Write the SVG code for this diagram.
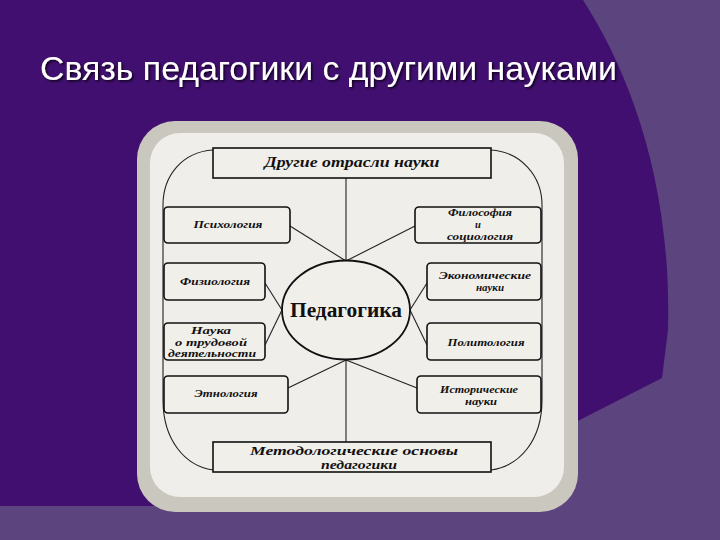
<svg xmlns="http://www.w3.org/2000/svg" width="720" height="540" viewBox="0 0 720 540">
<style>
.box{fill:#f1efea;stroke:#111;stroke-width:1.6}
.ln{fill:none;stroke:#222;stroke-width:1.1}
.t{font-family:"Liberation Serif",serif;font-style:italic;font-weight:bold;fill:#111;text-anchor:middle}
.s{font-size:10.5px}
</style>
<defs>
<filter id="sh" x="-5%" y="-20%" width="110%" height="150%"><feDropShadow dx="1.5" dy="1.5" stdDeviation="1" flood-color="#000" flood-opacity="0.8"/></filter>
</defs>
<g id="background">
<rect width="720" height="540" fill="#5c447f"/>
<path d="M0,0 H583 C628,70 672,180 668,330 L662,378 L560,430 L560,506 H0 Z" fill="#410f70"/>
</g>
<text id="title" x="40" y="80" font-family="'Liberation Sans',Arial,sans-serif" font-size="33" fill="#fff" textLength="577" lengthAdjust="spacingAndGlyphs" filter="url(#sh)">Связь педагогики с другими науками</text>
<g id="panel">
<rect x="137" y="121" width="441" height="391" rx="38" fill="#c9c7be"/>
<rect x="150" y="133" width="414" height="364" rx="30" fill="#efeeea"/>
</g>
<g id="connectors">
<path class="ln" d="M213,150 C182,152 163,176 163,205 L163,400 C163,440 185,466 213,470"/>
<path class="ln" d="M491,150 C521,152 542,176 542,205 L542,400 C542,440 520,466 491,470"/>
<line class="ln" x1="346" y1="178" x2="346" y2="261"/>
<line class="ln" x1="346" y1="360" x2="346" y2="442"/>
<line class="ln" x1="290" y1="226" x2="346" y2="261"/>
<line class="ln" x1="415" y1="226" x2="346" y2="261"/>
<line class="ln" x1="265" y1="283" x2="282" y2="310"/>
<line class="ln" x1="265" y1="345" x2="282" y2="310"/>
<line class="ln" x1="427" y1="283" x2="410" y2="310"/>
<line class="ln" x1="427" y1="345" x2="410" y2="310"/>
<line class="ln" x1="288" y1="388" x2="346" y2="360"/>
<line class="ln" x1="417" y1="388" x2="346" y2="360"/>
</g>
<g id="top">
<rect x="213" y="148" width="278" height="30" fill="#f1efea" stroke="#111" stroke-width="1.6"/>
<text class="t" x="352" y="167" font-size="15" textLength="175" lengthAdjust="spacingAndGlyphs">Другие отрасли науки</text>
</g>
<g id="psychology">
<rect class="box" x="164" y="207" width="126" height="36" rx="4"/>
<text class="t s" x="228" y="228" textLength="69" lengthAdjust="spacingAndGlyphs">Психология</text>
</g>
<g id="philosophy">
<rect class="box" x="415" y="207" width="126" height="36" rx="4"/>
<text class="t s" x="480" y="216" textLength="64" lengthAdjust="spacingAndGlyphs">Философия</text>
<text class="t s" x="478" y="228">и</text>
<text class="t s" x="480" y="240" textLength="66" lengthAdjust="spacingAndGlyphs">социология</text>
</g>
<g id="physiology">
<rect class="box" x="164" y="263" width="101" height="37" rx="4"/>
<text class="t s" x="215" y="285" textLength="70" lengthAdjust="spacingAndGlyphs">Физиология</text>
</g>
<g id="economics">
<rect class="box" x="427" y="263" width="114" height="37" rx="4"/>
<text class="t s" x="485" y="279" textLength="92" lengthAdjust="spacingAndGlyphs">Экономические</text>
<text class="t s" x="490" y="291" textLength="28" lengthAdjust="spacingAndGlyphs">науки</text>
</g>
<g id="labour">
<rect class="box" x="164" y="323" width="101" height="37" rx="4"/>
<text class="t s" x="211" y="334" textLength="40" lengthAdjust="spacingAndGlyphs">Наука</text>
<text class="t s" x="211" y="346" textLength="72" lengthAdjust="spacingAndGlyphs">о трудовой</text>
<text class="t s" x="212" y="357" textLength="88" lengthAdjust="spacingAndGlyphs">деятельности</text>
</g>
<g id="politics">
<rect class="box" x="427" y="323" width="114" height="37" rx="4"/>
<text class="t s" x="486" y="346" textLength="77" lengthAdjust="spacingAndGlyphs">Политология</text>
</g>
<g id="ethnology">
<rect class="box" x="164" y="376" width="124" height="37" rx="4"/>
<text class="t s" x="226" y="397" textLength="63" lengthAdjust="spacingAndGlyphs">Этнология</text>
</g>
<g id="history">
<rect class="box" x="417" y="376" width="124" height="37" rx="4"/>
<text class="t s" x="479" y="393" textLength="78" lengthAdjust="spacingAndGlyphs">Исторические</text>
<text class="t s" x="481" y="405" textLength="32" lengthAdjust="spacingAndGlyphs">науки</text>
</g>
<g id="pedagogy">
<ellipse cx="346" cy="310" rx="64" ry="49.5" fill="#f1efea" stroke="#111" stroke-width="1.8"/>
<text x="346" y="317" font-family="'Liberation Serif',serif" font-weight="bold" font-size="20" fill="#111" text-anchor="middle" textLength="112" lengthAdjust="spacingAndGlyphs">Педагогика</text>
</g>
<g id="bottom">
<rect x="213" y="442" width="278" height="30" fill="#f1efea" stroke="#111" stroke-width="1.6"/>
<text class="t" x="354" y="455" font-size="13" textLength="208" lengthAdjust="spacingAndGlyphs">Методологические основы</text>
<text class="t" x="359" y="469" font-size="13" textLength="76" lengthAdjust="spacingAndGlyphs">педагогики</text>
</g>
</svg>
